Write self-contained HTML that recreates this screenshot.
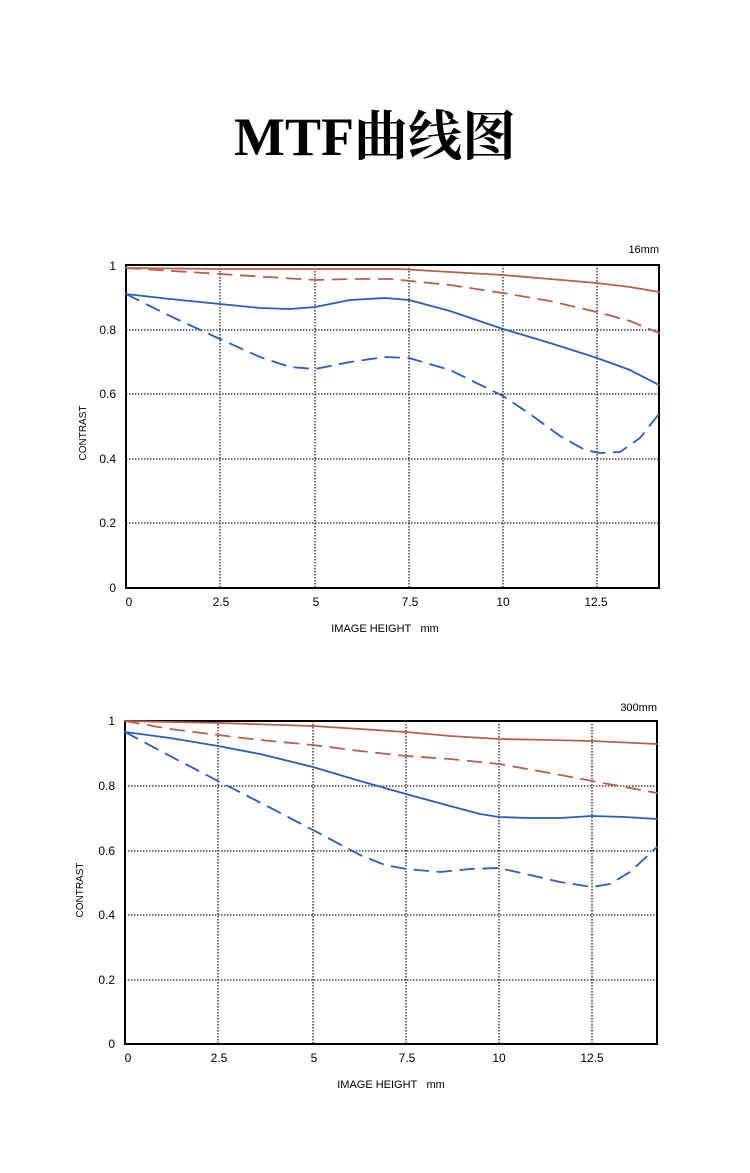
<!DOCTYPE html>
<html><head><meta charset="utf-8"><style>
html,body{margin:0;padding:0;background:#fff;}
body{width:750px;height:1168px;overflow:hidden;}
</style></head><body>
<svg width="750" height="1168" viewBox="0 0 750 1168" xmlns="http://www.w3.org/2000/svg" font-family="Liberation Sans, sans-serif">
<text x="375" y="155" text-anchor="middle" font-family="Liberation Serif, Noto Serif CJK SC, serif" font-weight="bold" font-size="54" fill="#000">MTF曲线图</text>

<!-- Chart 1 -->
<g stroke="#222" stroke-width="1.3" stroke-dasharray="1.5,1.5" fill="none">
<line x1="220" y1="265" x2="220" y2="588"/><line x1="315" y1="265" x2="315" y2="588"/><line x1="409" y1="265" x2="409" y2="588"/><line x1="503" y1="265" x2="503" y2="588"/><line x1="597" y1="265" x2="597" y2="588"/>
<line x1="126" y1="330" x2="659" y2="330"/><line x1="126" y1="394" x2="659" y2="394"/><line x1="126" y1="459" x2="659" y2="459"/><line x1="126" y1="523" x2="659" y2="523"/>
</g>
<rect x="126" y="265" width="533" height="323" fill="none" stroke="#000" stroke-width="2"/>
<g fill="none" stroke-width="1.8" stroke-linejoin="round" stroke-linecap="round">
<polyline stroke="#b5604a" points="126,268 220,269 315,269 400,269 450,272 503,275 550,279 597,283 630,287 659,292"/>
<polyline stroke="#b5604a" stroke-dasharray="14,9" points="126,268 220,274 315,280 350,279 390,279 450,285 503,293 550,301 597,312 630,321 659,333"/>
<polyline stroke="#2a5cb8" points="126,294 170,299 220,304 260,308 290,309 315,307 350,300 385,298 409,300 450,311 503,329 550,343 597,358 630,370 659,385"/>
<polyline stroke="#2a5cb8" stroke-dasharray="14,9" points="126,294 170,316 220,339 260,357 290,367 315,369 350,362 385,357 409,358 450,370 503,396 530,414 560,436 585,450 600,453 620,452 640,438 659,414"/>
</g>
<g font-size="12" fill="#000" text-anchor="end">
<text x="116" y="270">1</text><text x="116" y="334">0.8</text><text x="116" y="398">0.6</text><text x="116" y="463">0.4</text><text x="116" y="527">0.2</text><text x="116" y="592">0</text>
</g>
<g font-size="12" fill="#000" text-anchor="middle">
<text x="129" y="606">0</text><text x="221" y="606">2.5</text><text x="316" y="606">5</text><text x="410" y="606">7.5</text><text x="503" y="606">10</text><text x="596" y="606">12.5</text>
<text x="385" y="632" font-size="11">IMAGE HEIGHT&#160;&#160;&#160;mm</text>
</g>
<text x="659" y="253" font-size="11" text-anchor="end" fill="#000">16mm</text>
<text transform="translate(86,433) rotate(-90)" font-size="10" text-anchor="middle" fill="#000">CONTRAST</text>

<!-- Chart 2 -->
<g stroke="#222" stroke-width="1.3" stroke-dasharray="1.5,1.5" fill="none">
<line x1="218" y1="721" x2="218" y2="1044"/><line x1="313" y1="721" x2="313" y2="1044"/><line x1="406" y1="721" x2="406" y2="1044"/><line x1="499" y1="721" x2="499" y2="1044"/><line x1="592" y1="721" x2="592" y2="1044"/>
<line x1="125" y1="786" x2="657" y2="786"/><line x1="125" y1="851" x2="657" y2="851"/><line x1="125" y1="915" x2="657" y2="915"/><line x1="125" y1="980" x2="657" y2="980"/>
</g>
<rect x="125" y="721" width="532" height="323" fill="none" stroke="#000" stroke-width="2"/>
<g fill="none" stroke-width="1.8" stroke-linejoin="round" stroke-linecap="round">
<polyline stroke="#b5604a" points="125,721 220,723 313,726 406,732 450,736 499,739 550,740 592,741 657,744"/>
<polyline stroke="#b5604a" stroke-dasharray="14,9" points="125,721 170,729 218,735 260,740 313,745 360,751 406,756 450,759 499,764 550,773 592,781 625,787 657,793"/>
<polyline stroke="#2a5cb8" points="125,732 170,738 218,746 260,754 313,767 360,781 406,794 450,806 480,814 499,817 530,818 560,818 592,816 625,817 657,819"/>
<polyline stroke="#2a5cb8" stroke-dasharray="14,9" points="125,732 170,756 218,781 265,805 313,830 360,855 385,865 406,869 440,872 470,869 499,868 530,875 560,882 592,887 610,884 630,872 657,847"/>
</g>
<g font-size="12" fill="#000" text-anchor="end">
<text x="115" y="725">1</text><text x="115" y="790">0.8</text><text x="115" y="855">0.6</text><text x="115" y="919">0.4</text><text x="115" y="984">0.2</text><text x="115" y="1048">0</text>
</g>
<g font-size="12" fill="#000" text-anchor="middle">
<text x="128" y="1062">0</text><text x="219" y="1062">2.5</text><text x="314" y="1062">5</text><text x="407" y="1062">7.5</text><text x="499" y="1062">10</text><text x="592" y="1062">12.5</text>
<text x="391" y="1088" font-size="11">IMAGE HEIGHT&#160;&#160;&#160;mm</text>
</g>
<text x="657" y="711" font-size="11" text-anchor="end" fill="#000">300mm</text>
<text transform="translate(83,890) rotate(-90)" font-size="10" text-anchor="middle" fill="#000">CONTRAST</text>
</svg>
</body></html>
